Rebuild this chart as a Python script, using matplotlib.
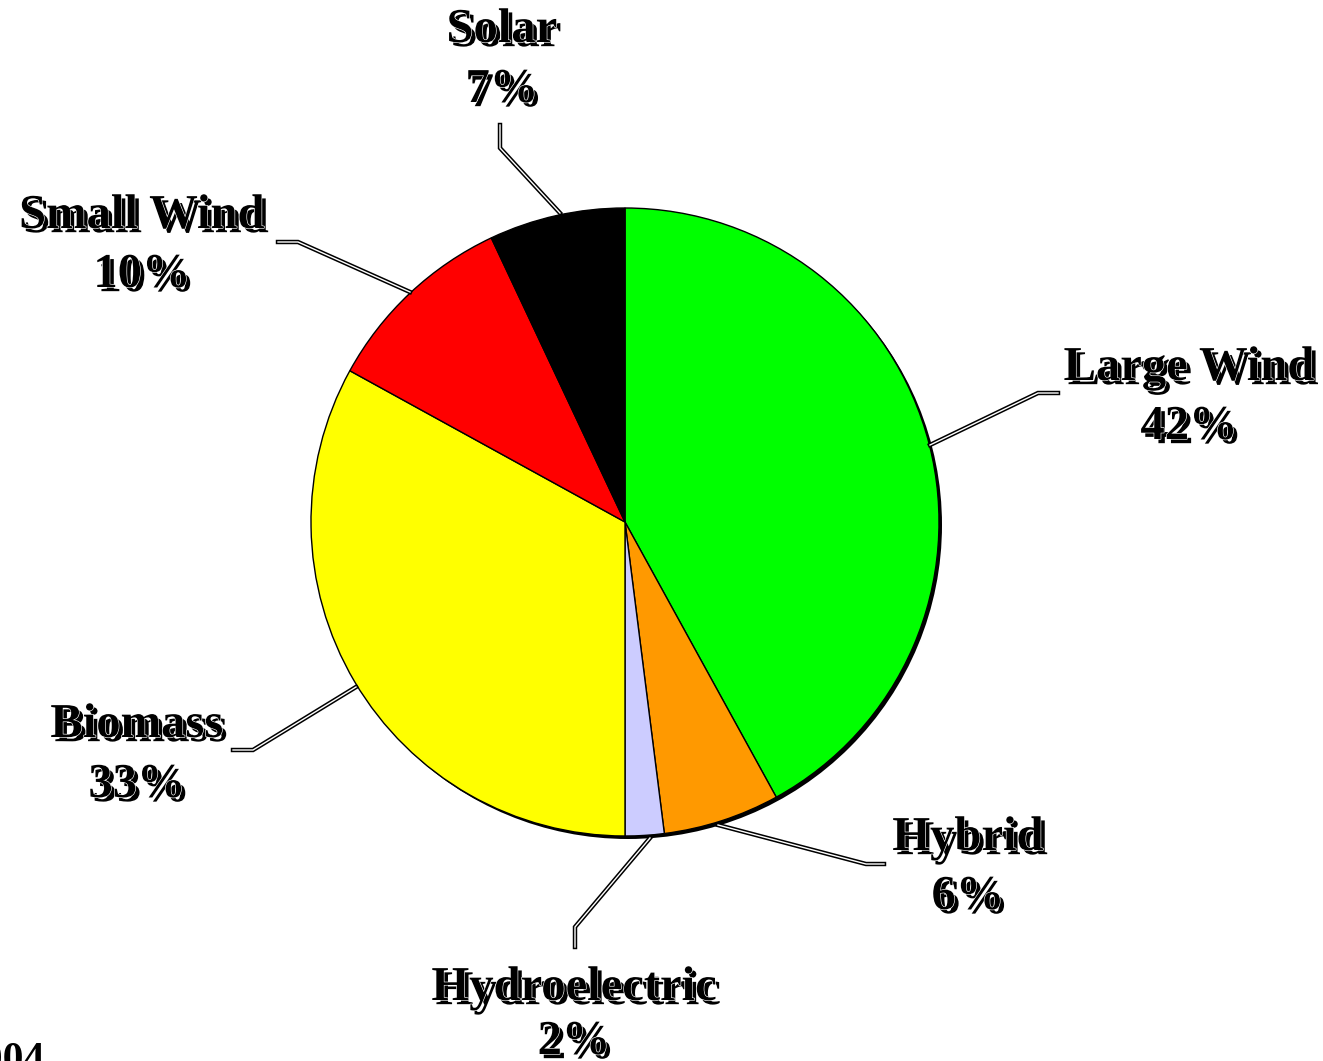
import matplotlib
matplotlib.use("Agg")
import matplotlib.pyplot as plt
import matplotlib.patheffects as pe
from matplotlib.patches import Circle

# Data
labels = ["Large Wind", "Hybrid", "Hydroelectric", "Biomass", "Small Wind", "Solar"]
values = [42, 6, 2, 33, 10, 7]
colors = ["#00ff00", "#ff9900", "#ccccff", "#ffff00", "#ff0000", "#000000"]

W, H = 1323, 1061
fig = plt.figure(figsize=(W / 100, H / 100), dpi=100)
ax = fig.add_axes([0, 0, 1, 1])
ax.set_xlim(0, W)
ax.set_ylim(0, H)
ax.set_aspect("equal")
ax.axis("off")

cx, cy, r = 625, H - 522, 314

# pie shadow
ax.add_patch(Circle((cx + 3, cy - 3), r, facecolor="black", edgecolor="none", zorder=1))
ax.pie(values, colors=colors, startangle=90, counterclock=False, center=(cx, cy),
       radius=r, wedgeprops=dict(edgecolor="black", linewidth=1.0, zorder=2),
       frame=True)
ax.set_xlim(0, W)
ax.set_ylim(0, H)
ax.axis("off")

# label positions (pixel, top-origin): name center, percent center
label_pos = {
    "Large Wind": (1189, 368, 427),
    "Hybrid": (968, 838, 897),
    "Hydroelectric": (574, 988, 1042),
    "Biomass": (137, 725, 785),
    "Small Wind": (142, 216, 275),
    "Solar": (502, 30, 90),
}
leaders = {
    "Large Wind": [(930, 445), (1038, 393), (1058, 393)],
    "Hybrid": [(718, 825), (866, 864), (884, 864)],
    "Hydroelectric": [(650, 838), (575, 927), (575, 947)],
    "Biomass": [(356, 687), (253, 750), (233, 750)],
    "Small Wind": [(410, 292), (298, 242), (278, 242)],
    "Solar": [(560, 213), (500, 148), (500, 125)],
}

fx = [pe.SimplePatchShadow(offset=(3, -3), shadow_rgbFace="black", alpha=1.0),
      pe.Stroke(linewidth=0.9, foreground="white"), pe.Normal()]

for lab, v in zip(labels, values):
    x, y1, y2 = label_pos[lab]
    for txt, yy in ((lab, y1), (f"{v}%", y2)):
        ax.text(x, H - yy, txt, ha="center", va="center", fontsize=35,
                fontweight="bold", family="Liberation Serif", color="black",
                path_effects=fx, zorder=5)
    pts = leaders[lab]
    xs = [p[0] for p in pts]
    ys = [H - p[1] for p in pts]
    ax.plot(xs, ys, color="black", lw=3.2, solid_joinstyle="miter", zorder=3)
    ax.plot(xs, ys, color="white", lw=1.0, solid_joinstyle="miter", zorder=4)

ax.text(45, H - 1071, "2004", ha="right", va="baseline", fontsize=30,
        fontweight="bold", family="Liberation Serif", color="black", zorder=5)

fig.savefig("out.png", dpi=100)
